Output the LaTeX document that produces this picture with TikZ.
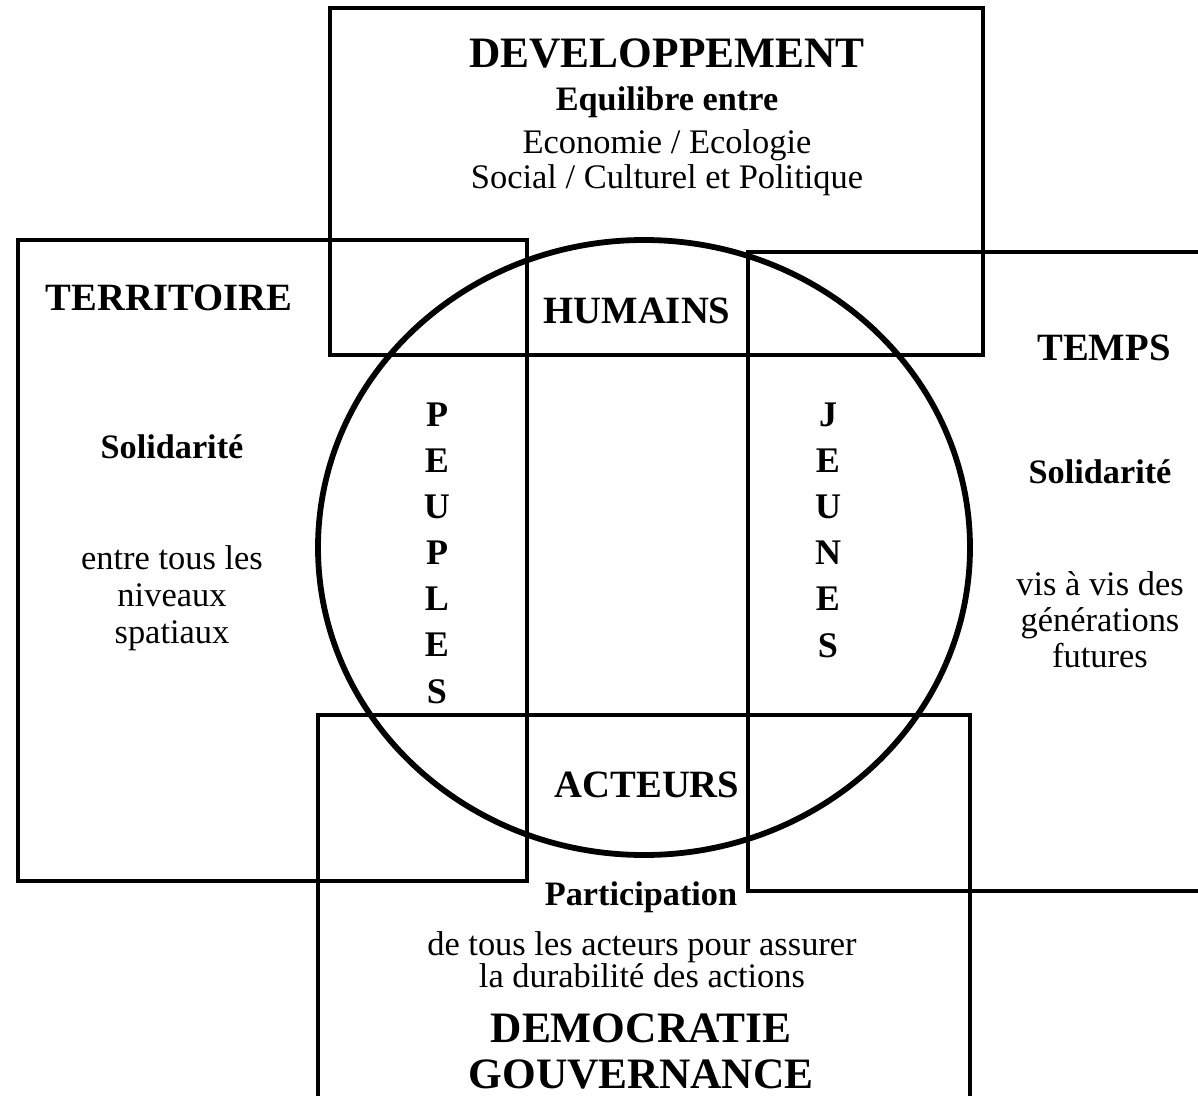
\documentclass[tikz,border=0pt]{standalone}
\usepackage{fontspec}
\setmainfont{Liberation Serif}
\usetikzlibrary{positioning}

\begin{document}
\begin{tikzpicture}[
    x=0.02cm, y=-0.02cm,
    % Styles des cadres
    cadre/.style={draw, line width=2.2pt},
    cercle/.style={draw, line width=3.3pt},
    % Styles des textes
    titre/.style={anchor=base, inner sep=0pt,
        font=\fontsize{24.7}{28}\selectfont\bfseries},
    motcle/.style={anchor=base, inner sep=0pt,
        font=\fontsize{22}{26}\selectfont\bfseries},
    soustitre/.style={anchor=base, inner sep=0pt,
        font=\fontsize{19.5}{22}\selectfont\bfseries},
    texte/.style={anchor=base, inner sep=0pt, align=center},
    lettres/.style={anchor=base, inner sep=0pt, align=center,
        font=\fontsize{20.5}{26.25}\selectfont\bfseries}
]

% Cadre de la page
\useasboundingbox (0,0) rectangle (1198,1096);
\clip (0,0) rectangle (1198,1096);

% Cadres
\draw[cadre] (330,8) rectangle (983,355);
\draw[cadre] (18,240) rectangle (527,881);
\draw[cadre] (1220,252) -| (748,891) -- (1220,891);
\draw[cadre] (318,1120) |- (970,715) -- (970,1120);

% Cercle central
\draw[cercle] (644,547.5) ellipse [x radius=326, y radius=307.5];

% Developpement (ancre sur la derniere ligne)
\node[titre] (dev) at (667,67) {DEVELOPPEMENT};
\node[soustitre] (equilibre) at (667,110) {Equilibre entre};
\node[texte, font=\fontsize{19.6}{19.8}\selectfont] (domaines) at (667,188)
    {Economie / Ecologie\\Social / Culturel et Politique};

% Territoire
\node[motcle] (territoire) at (169,310) {TERRITOIRE};
\node[soustitre] (solidterr) at (172,458) {Solidarité};
\node[texte, font=\fontsize{19.6}{21}\selectfont] (niveaux) at (172,643)
    {entre tous les\\niveaux\\spatiaux};

% Temps
\node[motcle] (temps) at (1104,360) {TEMPS};
\node[soustitre] (solidtemps) at (1100,483) {Solidarité};
\node[texte, font=\fontsize{19.6}{20.4}\selectfont] (generations) at (1100,667)
    {vis à vis des\\générations\\futures};

% Centre du cercle
\node[motcle] (humains) at (637,323) {HUMAINS};
\node[lettres] (peuples) at (437,703) {P\\E\\U\\P\\L\\E\\S};
\node[lettres] (jeunes) at (828,657) {J\\E\\U\\N\\E\\S};
\node[motcle] (acteurs) at (647,797) {ACTEURS};

% Democratie
\node[soustitre] (participation) at (641,905) {Participation};
\node[texte, font=\fontsize{19.6}{18.1}\selectfont] (durabilite) at (642,987)
    {de tous les acteurs pour assurer\\la durabilité des actions};
\node[titre] (democratie) at (641,1042) {DEMOCRATIE};
\node[titre] (gouvernance) at (641,1088) {GOUVERNANCE};

\end{tikzpicture}
\end{document}
